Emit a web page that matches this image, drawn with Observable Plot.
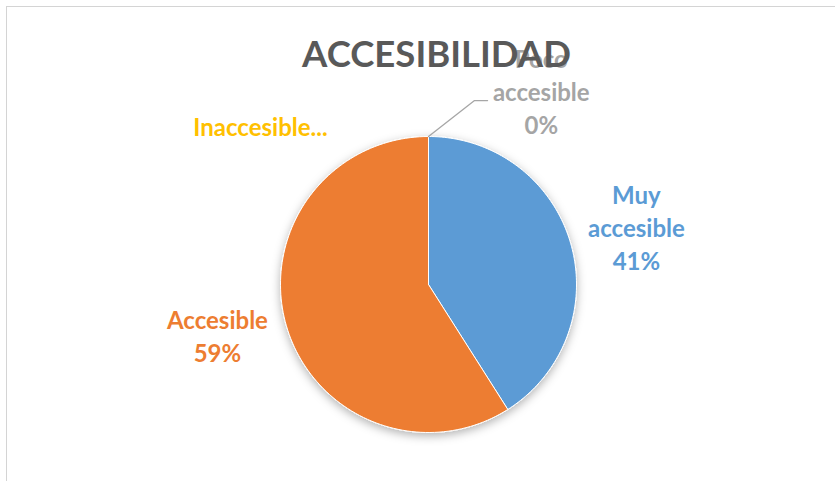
<!DOCTYPE html>
<html><head><meta charset="utf-8">
<script src="https://cdn.jsdelivr.net/npm/d3@7"></script>
<script src="https://cdn.jsdelivr.net/npm/@observablehq/plot@0.6"></script>
<style>
body{margin:0;background:#fff;}
#wrap{position:relative;width:835px;height:481px;overflow:hidden;background:#fff;}
#wrap svg{position:absolute;left:0;top:0;}
#frame{position:absolute;left:6px;top:6px;width:900px;height:600px;border-left:1.5px solid #d4d4d4;border-top:1.5px solid #d4d4d4;pointer-events:none;}
</style></head><body><div id="wrap"><div id="frame"></div></div>
<script>
// ---- data ----
const title = "ACCESIBILIDAD";
const categories = ["Muy accesible", "Accesible", "Poco accesible", "Inaccesible"];
const values = [41, 59, 0, 0];
const labelTexts = ["Muy\naccesible\n41%", "Accesible\n59%", "Poco\naccesible\n0%", "Inaccesible..."];

// ---- style / layout ----
const colors = ["#5B9BD5", "#ED7D31", "#A5A5A5", "#FFC000"];
// label anchors, in pie-radius units relative to the centre (y up)
const labelAt = [[1.405, 0.395], [-1.426, -0.338], [0.762, 1.311], [-1.135, 1.074]];
const leader = [[0, 1], [0.311, 1.243], [0.399, 1.243]];
const titleAt = [0.054, 1.547];

const data = categories.map((c, i) => ({cat: c, value: values[i]}));
const arcs = d3.pie().sort(null).value(d => d.value)(data);
const pts = [];
for (const s of arcs) {
  if (s.endAngle - s.startAngle <= 0) continue;
  const c = s.data.cat;
  pts.push({cat: c, x: 0, y: 0});
  const n = 120;
  for (let k = 0; k <= n; k++) {
    const a = s.startAngle + (s.endAngle - s.startAngle) * k / n;
    pts.push({cat: c, x: Math.sin(a), y: Math.cos(a)});
  }
  pts.push({cat: c, x: 0, y: 0});
}
const labels = categories.map((c, i) => ({cat: c, text: labelTexts[i], x: labelAt[i][0], y: labelAt[i][1]}));
const leaderPts = leader.map(([x, y]) => ({x, y}));

const font = "Lato, 'Open Sans', sans-serif";
const plot = Plot.plot({
  width: 835, height: 481, margin: 0,
  style: {background: "transparent"},
  x: {domain: [-1, 1], range: [280, 576], axis: null},
  y: {domain: [-1, 1], range: [432, 136], axis: null},
  color: {domain: categories, range: colors},
  marks: [
    Plot.line(pts, {x: "x", y: "y", z: "cat", fill: "cat", stroke: "#fff", strokeWidth: 1, curve: "linear"}),
    Plot.line(leaderPts, {x: "x", y: "y", stroke: "#A6A6A6", strokeWidth: 1.3}),
    Plot.text(labels, {x: "x", y: "y", text: "text", fill: "cat", fontSize: 24, fontWeight: "bold", lineHeight: 1.38, fontFamily: font}),
    Plot.text([title], {x: () => titleAt[0], y: () => titleAt[1], text: d => d, fill: "#595959", fontSize: 36.5, fontWeight: "bold", fontFamily: font})
  ]
});
const svg = d3.select(plot);
const defs = svg.insert("defs", ":first-child");
const f = defs.append("filter").attr("id", "sh").attr("x", "-20%").attr("y", "-20%").attr("width", "140%").attr("height", "140%");
f.append("feDropShadow").attr("dx", 0).attr("dy", 3).attr("stdDeviation", 5).attr("flood-color", "#000").attr("flood-opacity", 0.3);
svg.select('g[aria-label="line"]').attr("filter", "url(#sh)");
document.getElementById("wrap").insertBefore(plot, document.getElementById("frame"));
</script>
</body></html>
